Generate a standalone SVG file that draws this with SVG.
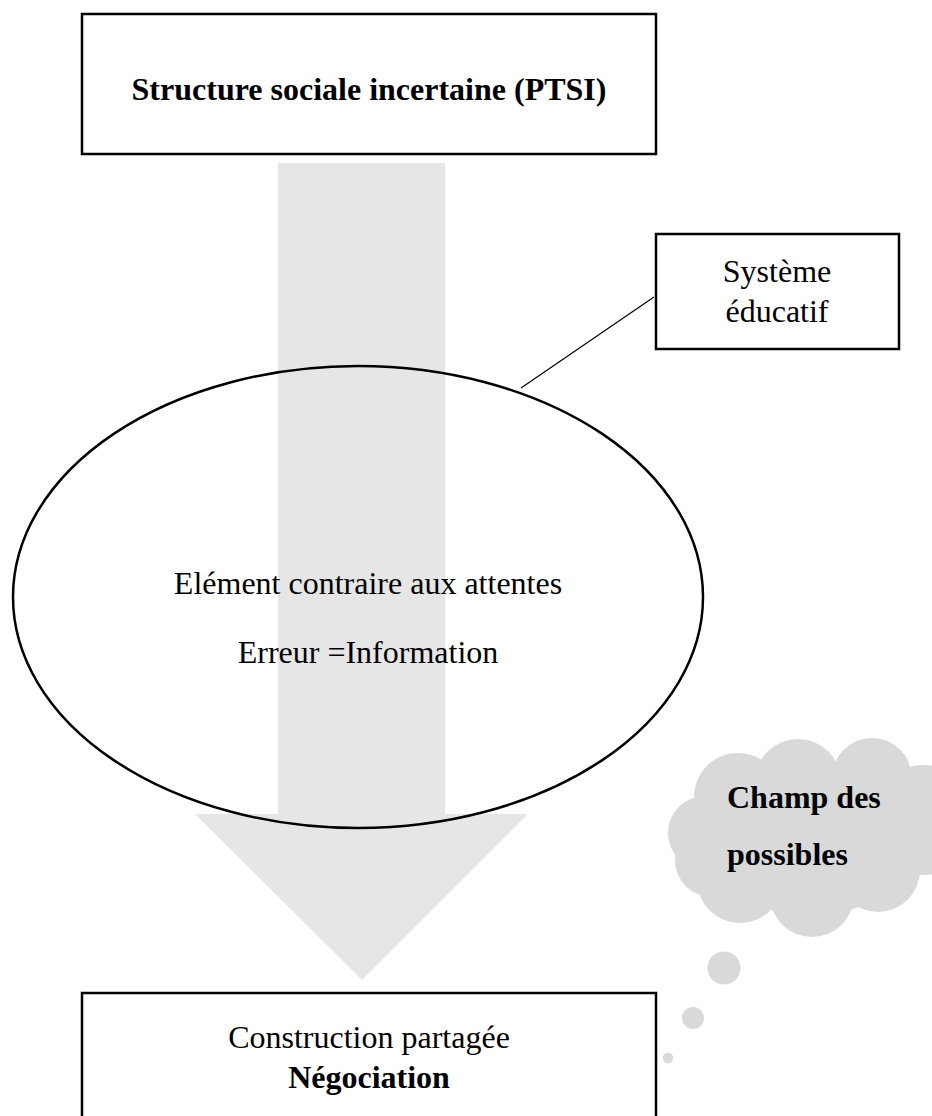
<svg xmlns="http://www.w3.org/2000/svg" width="932" height="1116" viewBox="0 0 932 1116">
<style>
.box{fill:#ffffff;stroke:#000000;stroke-width:2.5}
.t{font-family:"Liberation Serif","Times New Roman",serif;font-size:32px;fill:#000000}
.b{font-weight:bold}
.c{text-anchor:middle}
.cloud{fill:#d9d9d9}
.arrow{fill:#e6e6e6}
</style>
<rect width="932" height="1116" fill="#ffffff"/>
<g id="flow-arrow">
<polygon class="arrow" points="278,163 445,163 445,814 528,814 362,980 195,814 278,814"/>
</g>
<g id="node-structure">
<rect class="box" x="82" y="14" width="574" height="140"/>
<text class="t b c" x="369" y="100">Structure sociale incertaine (PTSI)</text>
</g>
<g id="node-element">
<ellipse cx="358" cy="597" rx="345" ry="231" fill="none" stroke="#000000" stroke-width="2.5"/>
<text class="t c" x="368" y="594">Elément contraire aux attentes</text>
<text class="t c" x="368" y="663">Erreur =Information</text>
</g>
<g id="node-systeme">
<rect class="box" x="656" y="234" width="243" height="115"/>
<text class="t c" x="777" y="282">Système</text>
<text class="t c" x="777" y="322">éducatif</text>
</g>
<g id="connectors">
<line x1="521" y1="388" x2="654" y2="297" stroke="#000000" stroke-width="1.2"/>
</g>
<g id="node-champ">
<circle class="cloud" cx="738" cy="797" r="44"/>
<circle class="cloud" cx="798" cy="782" r="43"/>
<circle class="cloud" cx="872" cy="778" r="40"/>
<circle class="cloud" cx="925" cy="820" r="55"/>
<circle class="cloud" cx="878" cy="870" r="42"/>
<circle class="cloud" cx="812" cy="895" r="42"/>
<circle class="cloud" cx="740" cy="880" r="43"/>
<circle class="cloud" cx="712" cy="860" r="37"/>
<circle class="cloud" cx="705" cy="833" r="37"/>
<ellipse class="cloud" cx="810" cy="840" rx="110" ry="75"/>
<circle class="cloud" cx="724" cy="968" r="16.5"/>
<circle class="cloud" cx="693" cy="1018" r="11"/>
<circle class="cloud" cx="668" cy="1058" r="5.3"/>
<text class="t b" x="727" y="808">Champ des</text>
<text class="t b" x="727" y="865">possibles</text>
</g>
<g id="node-construction">
<rect class="box" x="82" y="993" width="574" height="150"/>
<text class="t c" x="369" y="1048">Construction partagée</text>
<text class="t b c" x="369" y="1088">Négociation</text>
</g>
</svg>
